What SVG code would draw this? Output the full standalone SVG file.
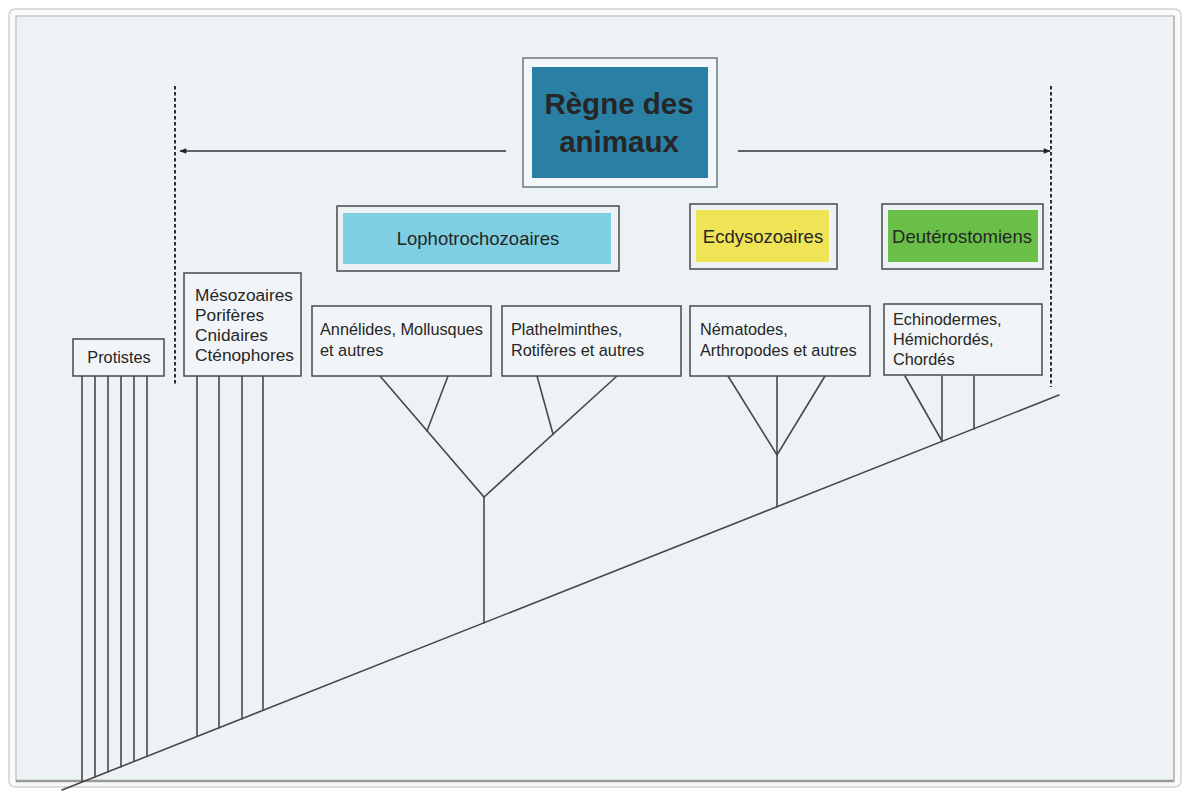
<svg xmlns="http://www.w3.org/2000/svg" width="1190" height="794" viewBox="0 0 1190 794">
<defs>
<marker id="ah" viewBox="0 0 10 10" refX="9" refY="5" markerWidth="8" markerHeight="7" markerUnits="userSpaceOnUse" orient="auto">
<path d="M0,1 L10,5 L0,9 z" fill="#222"/>
</marker>
<style>
.box{fill:none;stroke:#4a4a4a;stroke-width:1.5}
.wbox{fill:#f2f5f7;stroke:#4a4a4a;stroke-width:1.5}
.t{font-family:"Liberation Sans",Arial,sans-serif;fill:#262626}
.cat{font-size:18.5px}
.sub{font-size:16.3px}
.meso{font-size:17.3px}
.br{fill:none;stroke:#484848;stroke-width:1.6;stroke-linecap:round}
.dash{stroke:#2e2e2e;stroke-width:2;stroke-dasharray:3.5 2.5;fill:none}
.arr{stroke:#333;stroke-width:1.4;fill:none}
</style>
</defs>
<rect width="1190" height="794" fill="#ffffff"/>
<rect x="9" y="9" width="1172" height="778" rx="6" fill="#fafafa" stroke="#d2d2d2" stroke-width="1.5"/>
<rect x="16" y="16" width="1158" height="765" fill="#edf2f5" stroke="#c6c6c6" stroke-width="1.5"/>
<line x1="16" y1="781" x2="1174" y2="781" stroke="#9a9a9a" stroke-width="2.5"/>
<line x1="1174" y1="16" x2="1174" y2="781" stroke="#bdbdbd" stroke-width="2"/>

<g id="connectors">
<line class="dash" x1="175" y1="86" x2="175" y2="385"/>
<line class="dash" x1="1051" y1="86" x2="1051" y2="387"/>
<line class="arr" x1="506" y1="151" x2="180" y2="151" marker-end="url(#ah)"/>
<line class="arr" x1="738" y1="151" x2="1050" y2="151" marker-end="url(#ah)"/>
<line class="br" x1="62" y1="790" x2="1059" y2="395"/>
<line class="br" x1="82" y1="376" x2="82" y2="782"/>
<line class="br" x1="95" y1="376" x2="95" y2="777"/>
<line class="br" x1="108" y1="376" x2="108" y2="772"/>
<line class="br" x1="121" y1="376" x2="121" y2="767"/>
<line class="br" x1="134" y1="376" x2="134" y2="761"/>
<line class="br" x1="147" y1="376" x2="147" y2="756"/>
<line class="br" x1="197" y1="376" x2="197" y2="736"/>
<line class="br" x1="219" y1="376" x2="219" y2="728"/>
<line class="br" x1="242" y1="376" x2="242" y2="719"/>
<line class="br" x1="263" y1="376" x2="263" y2="710"/>
<polyline class="br" points="380,376 484,497 617,376"/>
<line class="br" x1="448" y1="376" x2="427" y2="431"/>
<line class="br" x1="537" y1="376" x2="553" y2="434"/>
<line class="br" x1="484" y1="497" x2="484" y2="623"/>
<polyline class="br" points="728,376 777,455 825,376"/>
<line class="br" x1="777" y1="376" x2="777" y2="507"/>
<line class="br" x1="905" y1="376" x2="942" y2="441"/>
<line class="br" x1="942" y1="376" x2="942" y2="441"/>
<line class="br" x1="974" y1="376" x2="974" y2="429"/>
</g>

<g id="regne">
<rect x="523" y="58" width="194" height="129" fill="#f4f7f9" stroke="#6a7a80" stroke-width="1.5"/>
<rect x="532" y="67" width="176" height="111" fill="#2a80a4"/>
<text class="t" x="619" y="114" font-size="29.5" font-weight="bold" text-anchor="middle" fill="#111">Règne des</text>
<text class="t" x="619" y="152" font-size="29.5" font-weight="bold" text-anchor="middle" fill="#111">animaux</text>
</g>

<g id="lopho">
<rect class="box" x="337" y="206" width="282" height="65" fill="#f2f5f7"/>
<rect x="343" y="213" width="268" height="51" fill="#7ecfe2"/>
<text class="t cat" x="478" y="245" text-anchor="middle">Lophotrochozoaires</text>
</g>

<g id="ecdy">
<rect class="box" x="690" y="204" width="147" height="65" fill="#f2f5f7"/>
<rect x="696" y="210" width="133" height="52" fill="#efe356"/>
<text class="t cat" x="763" y="243" text-anchor="middle">Ecdysozoaires</text>
</g>

<g id="deut">
<rect class="box" x="882" y="204" width="161" height="65" fill="#f2f5f7"/>
<rect x="888" y="210" width="150" height="52" fill="#69bf47"/>
<text class="t cat" x="962" y="243" text-anchor="middle">Deutérostomiens</text>
</g>

<g id="protistes">
<rect class="wbox" x="73" y="339" width="91" height="37"/>
<text class="t sub" x="119" y="363" text-anchor="middle">Protistes</text>
</g>

<g id="meso">
<rect class="wbox" x="184" y="273" width="117" height="103"/>
<text class="t meso" x="195" y="301">Mésozoaires</text>
<text class="t meso" x="195" y="321">Porifères</text>
<text class="t meso" x="195" y="341">Cnidaires</text>
<text class="t meso" x="195" y="361">Cténophores</text>
</g>

<g id="annelides">
<rect class="wbox" x="312" y="306" width="179" height="70"/>
<text class="t sub" x="320" y="335">Annélides, Mollusques</text>
<text class="t sub" x="320" y="356">et autres</text>
</g>

<g id="plathel">
<rect class="wbox" x="502" y="306" width="179" height="70"/>
<text class="t sub" x="511" y="335">Plathelminthes,</text>
<text class="t sub" x="511" y="356">Rotifères et autres</text>
</g>

<g id="nemato">
<rect class="wbox" x="690" y="306" width="180" height="70"/>
<text class="t sub" x="700" y="335">Nématodes,</text>
<text class="t sub" x="700" y="356">Arthropodes et autres</text>
</g>

<g id="echino">
<rect class="wbox" x="884" y="304" width="158" height="71"/>
<text class="t sub" x="893" y="325">Echinodermes,</text>
<text class="t sub" x="893" y="345">Hémichordés,</text>
<text class="t sub" x="893" y="365">Chordés</text>
</g>
</svg>
